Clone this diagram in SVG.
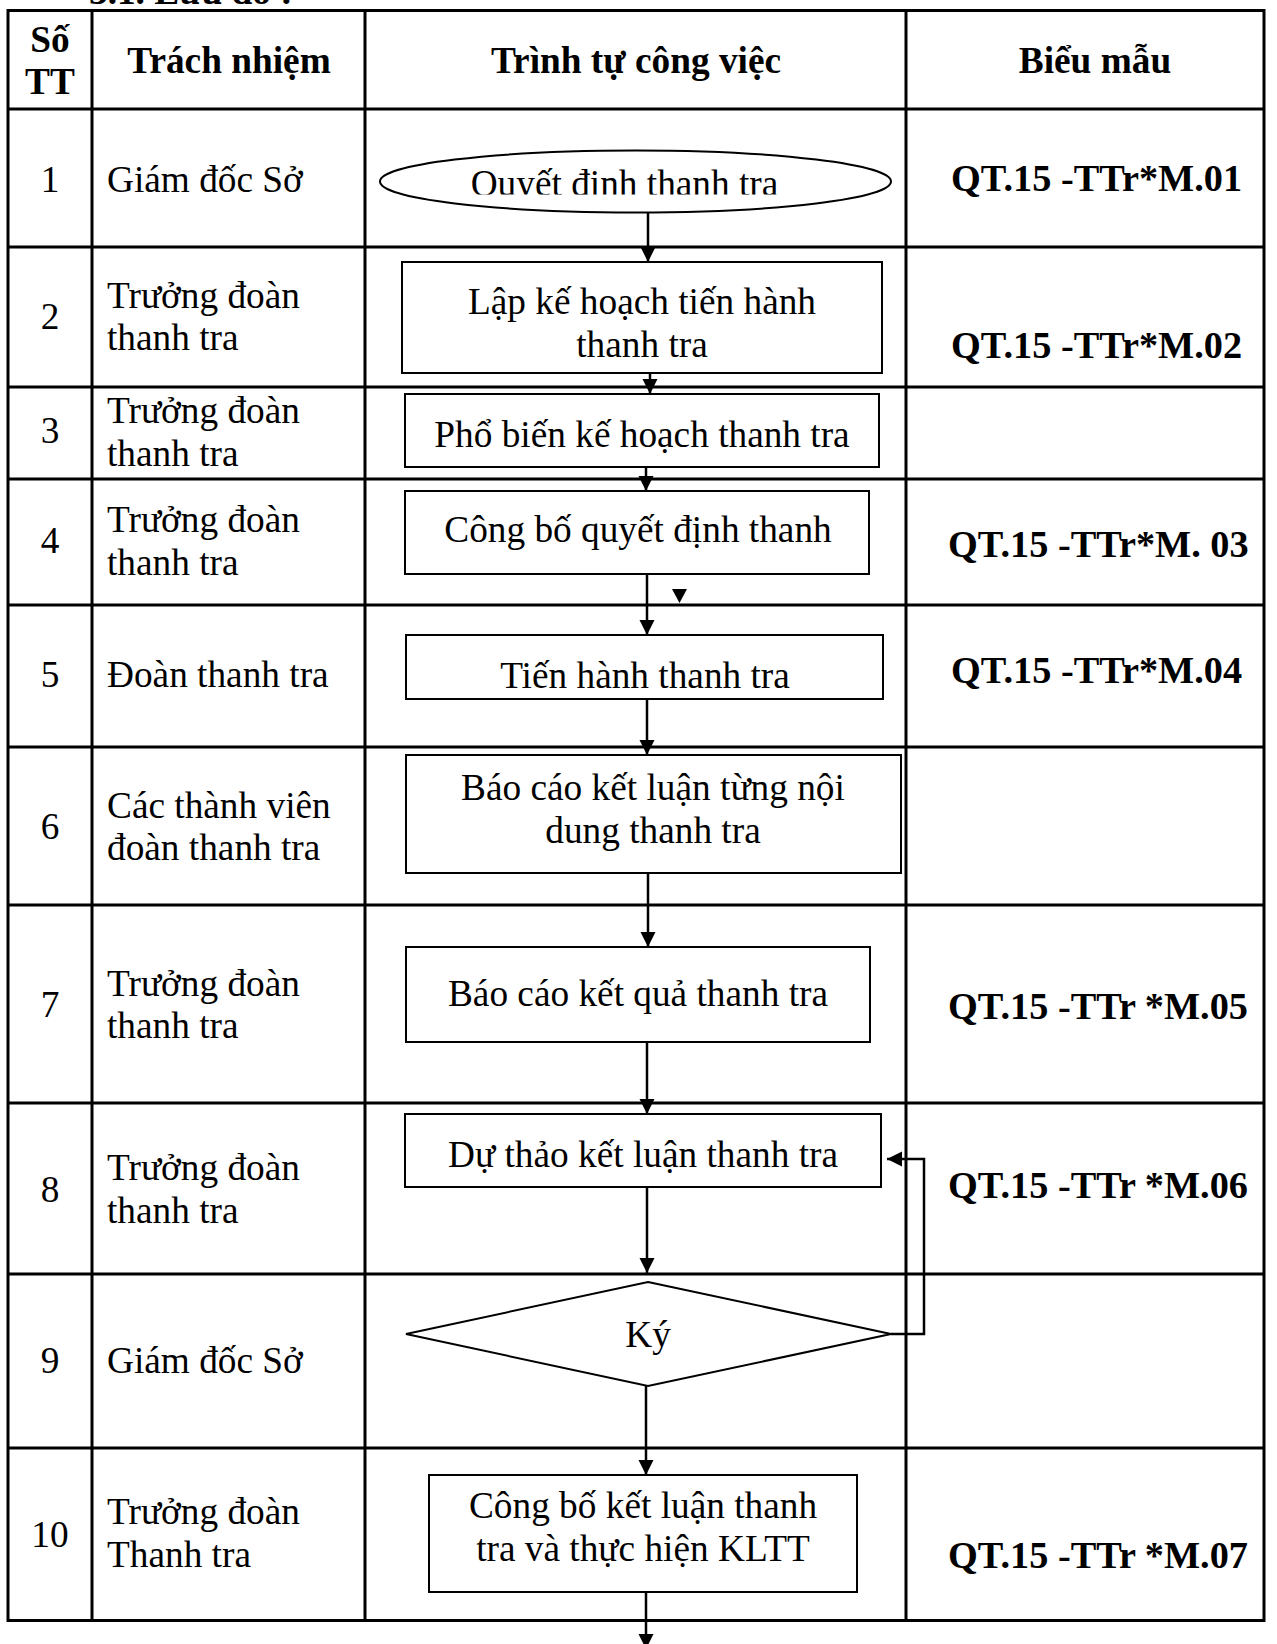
<svg xmlns="http://www.w3.org/2000/svg" width="1277" height="1644" viewBox="0 0 1277 1644">
<style>
text{font-family:"Liberation Serif","Times New Roman",serif;font-size:37.3px;fill:#000}
.b{font-weight:bold}
.c{text-anchor:middle}
.f{font-size:38.3px}
.grid{stroke:#000;stroke-width:3;fill:none}
.box{fill:#fff;stroke:#000;stroke-width:2}
.con{stroke:#000;stroke-width:2.5;fill:none}
</style>
<defs>
<marker id="ah" markerUnits="userSpaceOnUse" markerWidth="16" markerHeight="16" refX="15" refY="7.5" orient="auto">
<path d="M0,0 L15,7.5 L0,15 z" fill="#000"/>
</marker>
<clipPath id="qclip"><rect x="380" y="150" width="512" height="44.5"/></clipPath>
</defs>
<rect width="1277" height="1644" fill="#fff"/>
<text class="b" x="89" y="4">3.1. Lưu đồ :</text>

<g id="table">
<rect class="grid" x="8" y="10.5" width="1256" height="1610"/>
<line class="grid" x1="92" y1="10.5" x2="92" y2="1620.5"/>
<line class="grid" x1="365" y1="10.5" x2="365" y2="1620.5"/>
<line class="grid" x1="906" y1="10.5" x2="906" y2="1620.5"/>
<line class="grid" x1="8" y1="109" x2="1264" y2="109"/>
<line class="grid" x1="8" y1="247" x2="1264" y2="247"/>
<line class="grid" x1="8" y1="387" x2="1264" y2="387"/>
<line class="grid" x1="8" y1="479" x2="1264" y2="479"/>
<line class="grid" x1="8" y1="605" x2="1264" y2="605"/>
<line class="grid" x1="8" y1="747" x2="1264" y2="747"/>
<line class="grid" x1="8" y1="905" x2="1264" y2="905"/>
<line class="grid" x1="8" y1="1103" x2="1264" y2="1103"/>
<line class="grid" x1="8" y1="1274" x2="1264" y2="1274"/>
<line class="grid" x1="8" y1="1448" x2="1264" y2="1448"/>
</g>

<g id="header">
<text class="b c" x="50" y="52">Số</text>
<text class="b c" x="50" y="94">TT</text>
<text class="b c" x="229" y="73">Trách nhiệm</text>
<text class="b c" x="636" y="73">Trình tự công việc</text>
<text class="b c" x="1095" y="73">Biểu mẫu</text>
</g>

<g id="col-stt">
<text class="c" x="50" y="192">1</text>
<text class="c" x="50" y="329">2</text>
<text class="c" x="50" y="443">3</text>
<text class="c" x="50" y="553">4</text>
<text class="c" x="50" y="687">5</text>
<text class="c" x="50" y="839">6</text>
<text class="c" x="50" y="1017">7</text>
<text class="c" x="50" y="1202">8</text>
<text class="c" x="50" y="1373">9</text>
<text class="c" x="50" y="1547">10</text>
</g>

<g id="col-resp">
<text x="107" y="192">Giám đốc Sở</text>
<text x="107" y="308">Trưởng đoàn</text><text x="107" y="350">thanh tra</text>
<text x="107" y="423">Trưởng đoàn</text><text x="107" y="466">thanh tra</text>
<text x="107" y="532">Trưởng đoàn</text><text x="107" y="575">thanh tra</text>
<text x="107" y="687">Đoàn thanh tra</text>
<text x="107" y="818">Các thành viên</text><text x="107" y="860">đoàn thanh tra</text>
<text x="107" y="996">Trưởng đoàn</text><text x="107" y="1038">thanh tra</text>
<text x="107" y="1180">Trưởng đoàn</text><text x="107" y="1223">thanh tra</text>
<text x="107" y="1373">Giám đốc Sở</text>
<text x="107" y="1524">Trưởng đoàn</text><text x="107" y="1567">Thanh tra</text>
</g>

<g id="col-form">
<text class="b f" x="951" y="191">QT.15 -TTr*M.01</text>
<text class="b f" x="951" y="358">QT.15 -TTr*M.02</text>
<text class="b f" x="948" y="557">QT.15 -TTr*M. 03</text>
<text class="b f" x="951" y="683">QT.15 -TTr*M.04</text>
<text class="b f" x="948" y="1019">QT.15 -TTr *M.05</text>
<text class="b f" x="948" y="1198">QT.15 -TTr *M.06</text>
<text class="b f" x="948" y="1568">QT.15 -TTr *M.07</text>
</g>

<g id="connectors">
<line class="con" x1="648" y1="213" x2="648" y2="262" marker-end="url(#ah)"/>
<line class="con" x1="650" y1="373" x2="650" y2="394" marker-end="url(#ah)"/>
<line class="con" x1="646" y1="467" x2="646" y2="491" marker-end="url(#ah)"/>
<line class="con" x1="647" y1="574" x2="647" y2="635" marker-end="url(#ah)"/>
<path d="M672,589 L687,589 L679.5,603 z" fill="#000"/>
<line class="con" x1="647" y1="699" x2="647" y2="755" marker-end="url(#ah)"/>
<line class="con" x1="648" y1="873" x2="648" y2="947" marker-end="url(#ah)"/>
<line class="con" x1="647" y1="1042" x2="647" y2="1114" marker-end="url(#ah)"/>
<line class="con" x1="647" y1="1187" x2="647" y2="1273" marker-end="url(#ah)"/>
<line class="con" x1="646" y1="1386" x2="646" y2="1475" marker-end="url(#ah)"/>
<line class="con" x1="646" y1="1592" x2="646" y2="1649" marker-end="url(#ah)"/>
<polyline class="con" points="891,1334 924,1334 924,1159 887,1159" marker-end="url(#ah)"/>
</g>

<g id="n1">
<ellipse class="box" cx="635.5" cy="181.5" rx="255.5" ry="31"/>
<text class="c" x="624.5" y="195.5" clip-path="url(#qclip)">Quyết định thanh tra</text>
</g>
<g id="n2">
<rect class="box" x="402" y="262" width="480" height="111"/>
<text class="c" x="642" y="314">Lập kế hoạch tiến hành</text>
<text class="c" x="642" y="357">thanh tra</text>
</g>
<g id="n3">
<rect class="box" x="405" y="394" width="474" height="73"/>
<text class="c" x="642" y="447">Phổ biến kế hoạch thanh tra</text>
</g>
<g id="n4">
<rect class="box" x="405" y="491" width="464" height="83"/>
<text class="c" x="638" y="542">Công bố quyết định thanh</text>
</g>
<g id="n5">
<rect class="box" x="406" y="635" width="477" height="64"/>
<text class="c" x="645" y="688">Tiến hành thanh tra</text>
</g>
<g id="n6">
<rect class="box" x="406" y="755" width="495" height="118"/>
<text class="c" x="653" y="800">Báo cáo kết luận từng nội</text>
<text class="c" x="653" y="843">dung thanh tra</text>
</g>
<g id="n7">
<rect class="box" x="406" y="947" width="464" height="95"/>
<text class="c" x="638" y="1006">Báo cáo kết quả thanh tra</text>
</g>
<g id="n8">
<rect class="box" x="405" y="1114" width="476" height="73"/>
<text class="c" x="643" y="1167">Dự thảo kết luận thanh tra</text>
</g>
<g id="n9">
<polygon class="box" points="648,1282 891,1334 648,1386 406,1334"/>
<text class="c" x="648" y="1347">Ký</text>
</g>
<g id="n10">
<rect class="box" x="429" y="1475" width="428" height="117"/>
<text class="c" x="643" y="1518">Công bố kết luận thanh</text>
<text class="c" x="643" y="1561">tra và thực hiện KLTT</text>
</g>
</svg>
